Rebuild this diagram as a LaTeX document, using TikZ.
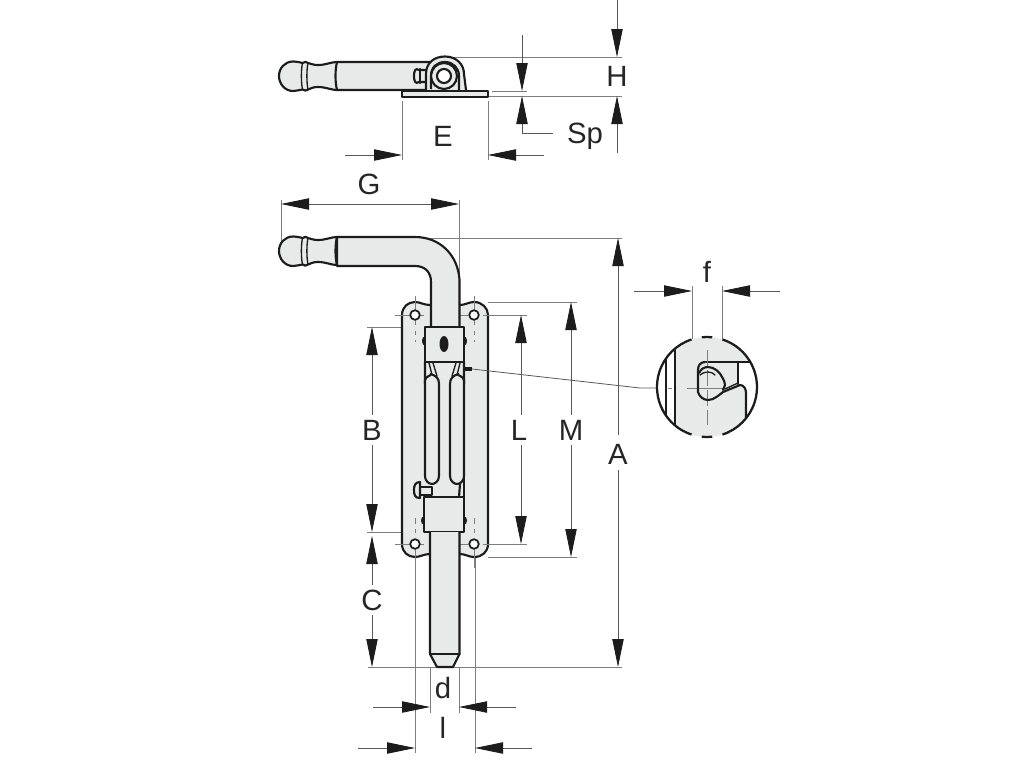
\documentclass[tikz,border=0pt]{standalone}
\usepackage{fontspec}
\setmainfont{Liberation Sans}
\usetikzlibrary{arrows.meta}
\definecolor{partfill}{HTML}{E8EAEA}
\definecolor{partline}{HTML}{1C1C1C}
\definecolor{dimline}{HTML}{7E7E7E}
\tikzset{
  part/.style={draw=partline,fill=partfill,line width=1.6pt,line join=round},
  edge/.style={draw=partline,line width=1.6pt,line cap=round},
  fineedge/.style={draw=partline,line width=1pt,line cap=round},
  ext/.style={draw=dimline,line width=0.65pt},
  dimarrow/.style={draw=dimline!70!black,line width=0.6pt,-{Triangle[length=21pt,width=8.5pt,color=partline]}},
  thin dim/.style={draw=dimline!70!black,line width=0.6pt},
  centre/.style={draw=dimline,line width=0.6pt,dash pattern=on 22pt off 4pt on 3pt off 4pt},
  lab/.style={font=\fontsize{22}{22}\selectfont,text=black!85,inner sep=0pt}
}
\newcommand{\knobpath}{%
  (337,62) .. controls (331,62) and (326,65) .. (318,65)
  .. controls (314,65) and (311,64) .. (308,63)
  .. controls (307,61.5) and (304,61.5) .. (302.5,63)
  .. controls (299,62) and (295,61.5) .. (293,61.5)
  .. controls (285,61.5) and (279,68) .. (279,76)
  .. controls (279,84) and (285,91) .. (293,91)
  .. controls (296,91) and (299,90) .. (302.5,89.5)
  .. controls (304,91) and (307,91) .. (308,89.5)
  .. controls (311,88) and (314,87) .. (318,87)
  .. controls (326,87) and (331,90) .. (337,90)}
\newcommand{\knobdetail}{%
  \draw[fineedge] (302.5,63) .. controls (301,70) and (301,82) .. (302.5,89.5);
  \draw[fineedge] (308,63) .. controls (306.5,70) and (306.5,82) .. (308,89.5);
  \draw[edge] (337,62) .. controls (335,70) and (335,82) .. (337,90);
}
\begin{document}
\begin{tikzpicture}[x=0.75pt,y=-0.75pt]
\path[use as bounding box,fill=white] (0,0) rectangle (1024,768);

% ---------- top view ----------
\draw[ext] (444,57) -- (622,57);
\draw[ext] (488,96) -- (622,96);
\draw[ext] (492,91) -- (527,91);
\draw[ext] (402,101) -- (402,160);
\draw[ext] (488,101) -- (488,160);
\draw[part] \knobpath -- (430,90) -- (430,62) -- cycle;
\knobdetail
% bolt head
\draw[part] (426,70) -- (419,70) .. controls (415,67) and (414,72) .. (414,76)
  .. controls (414,80) and (415,85) .. (419,82) -- (426,82);
\draw[edge] (420,69) -- (420,83);
% bracket
\draw[part] (426,90) -- (426,74) .. controls (426,63) and (434,56.5) .. (445,56.5)
  .. controls (456,56.5) and (464,64) .. (464,74) -- (466,90);
\draw[part] (431,89) -- (431,76) .. controls (431,67) and (437,62) .. (445,62)
  .. controls (453,62) and (459,68) .. (459,76) -- (459,90);
\draw[part] (444,76) circle[radius=13];
\draw[part,fill=white] (444,76) circle[radius=7];
\draw[part] (402,91) rectangle (488,97);

% ---------- front view: extension lines ----------
\draw[ext] (281,200) -- (281,250);
\draw[ext] (459,200) -- (459,280);
\draw[ext] (430,238) -- (622,238);
\draw[ext] (488,302) -- (577,302);
\draw[ext] (488,557) -- (577,557);
\draw[ext] (475,315) -- (527,315);
\draw[ext] (475,544) -- (527,544);
\draw[ext] (367,327) -- (425,327);
\draw[ext] (367,532) -- (425,532);
\draw[ext] (368,667) -- (622,667);
\draw[ext] (415,555) -- (415,753);
\draw[ext] (475,555) -- (475,753);
\draw[ext] (430,667) -- (430,713);
\draw[ext] (459,667) -- (459,713);

% plate
\draw[part] (402,315) .. controls (402,307) and (408,302) .. (415,302)
  .. controls (420,302) and (424,305) .. (430,305) -- (460,305)
  .. controls (465,305) and (469,302) .. (474,302)
  .. controls (482,302) and (488,308) .. (488,315)
  -- (488,544)
  .. controls (488,552) and (482,557) .. (474,557)
  .. controls (469,557) and (465,554) .. (460,554) -- (430,554)
  .. controls (424,554) and (420,557) .. (415,557)
  .. controls (408,557) and (402,552) .. (402,544) -- cycle;
% centre lines
\draw[centre] (395,315) -- (495,315);
\draw[centre] (395,544) -- (495,544);
\draw[centre] (415,296) -- (415,342);
\draw[centre] (474,296) -- (474,342);
\draw[centre] (415,568) -- (415,518);
\draw[centre] (474,568) -- (474,518);
% holes
\foreach \hx/\hy in {415/315,474/315,415/544,474/544}
  \draw[draw=partline,fill=white,line width=1.3pt] (\hx,\hy) circle[radius=4.8];

% handle and bar
\fill[partfill] (337,237) -- (415,237) .. controls (440,237) and (458,255) .. (459,280) -- (459,340) -- (431,340) -- (431,280) .. controls (431,272) and (425,266) .. (415,266) -- (337,266) -- cycle;
\begin{scope}[yshift=-131.25pt]
  \draw[part] \knobpath -- cycle;
  \knobdetail
\end{scope}
\draw[edge] (337,237) -- (415,237) .. controls (440,237) and (458,255) .. (459.5,280) -- (459.5,327);
\draw[edge] (337,266) -- (415,266) .. controls (425,266) and (431,272) .. (431,282) -- (431,327);

% side tabs
\fill[partline] (425,336) .. controls (421,337) and (421,345) .. (425,346) -- cycle;
\fill[partline] (464,336) .. controls (468,337) and (468,345) .. (464,346) -- cycle;
\fill[partline] (424,516) .. controls (420,517) and (420,524) .. (424,525) -- cycle;
\fill[partline] (464,516) .. controls (468,517) and (468,524) .. (464,525) -- cycle;

% slots
\draw[edge] (425,362) -- (425,380) .. controls (426,376) and (431,376) .. (431,374);
\draw[edge] (431,374) .. controls (436,376) and (439,378) .. (439,384) -- (439,476)
  .. controls (439,482) and (434,484) .. (432,484) .. controls (428,484) and (425,480) .. (425,476) -- (425,380);
\draw[edge] (464,362) -- (464,380) .. controls (463,376) and (458,376) .. (458,374);
\draw[edge] (458,374) .. controls (453,376) and (450,378) .. (450,384) -- (450,476)
  .. controls (450,482) and (455,484) .. (457,484) .. controls (461,484) and (464,480) .. (464,476) -- (464,380);
\draw[fineedge] (429,363) -- (432,375);
\draw[fineedge] (433,363) -- (437,376);
\draw[fineedge] (460,363) -- (457,375);
\draw[fineedge] (456,363) -- (452,376);
\draw[edge] (460,484) -- (459,497);
\draw[edge] (464,476) -- (464,497);

% small pin
\fill[partline] (464,366.5) rectangle (472,371) ;

% locking bolt
\draw[part] (420,487) -- (432,487) -- (432,495) -- (420,495) -- cycle;
\draw[part] (420,482) .. controls (415,482) and (414,486) .. (414,490)
  .. controls (414,495) and (415,498) .. (420,498) -- cycle;

% blocks
\draw[part] (425,327) rectangle (464,362);
\fill[partline] (444,344) ellipse[x radius=4.5,y radius=8];
\draw[part] (424,497) rectangle (464,532);

% lower bar
\draw[part] (430,532) -- (430,654) -- (437,667) -- (453,667) -- (459.5,654) -- (459.5,532);
\draw[edge] (430,654) -- (459.5,654);

% ---------- dimension arrows ----------
% H
\draw[dimarrow] (617,0) -- (617,57);
\draw[dimarrow] (617,153) -- (617,96);
% Sp
\draw[dimarrow] (522,35) -- (522,91);
\draw[thin dim] (553,133) -- (522,133);
\draw[dimarrow] (522,133) -- (522,96);
% E
\draw[dimarrow] (345,155) -- (402,155);
\draw[dimarrow] (544,155) -- (488,155);
% G
\draw[dimarrow] (370,204) -- (281,204);
\draw[dimarrow] (370,204) -- (459,204);
% A
\draw[dimarrow] (618,435) -- (618,238);
\draw[dimarrow] (618,470) -- (618,667);
% M
\draw[dimarrow] (571,415) -- (571,302);
\draw[dimarrow] (571,445) -- (571,557);
% L
\draw[dimarrow] (521,415) -- (521,315);
\draw[dimarrow] (521,445) -- (521,544);
% B
\draw[dimarrow] (372,415) -- (372,327);
\draw[dimarrow] (372,445) -- (372,532);
% C
\draw[dimarrow] (372,585) -- (372,536);
\draw[dimarrow] (372,615) -- (372,667);
% d
\draw[dimarrow] (373,707) -- (430,707);
\draw[dimarrow] (516,707) -- (459,707);
% I
\draw[dimarrow] (358,748) -- (415,748);
\draw[dimarrow] (532,748) -- (475,748);
% f
\draw[dimarrow] (634,291) -- (692,291);
\draw[dimarrow] (780,291) -- (722,291);
\draw[ext] (692,286) -- (692,384);
\draw[ext] (722,286) -- (722,384);

% leader to detail
\coordinate (leadstart) at (472,369);
\coordinate (leadbend) at (640,388);
\coordinate (leadend) at (657,388);
\draw[thin dim] (leadstart) -- (leadbend) -- (leadend);

% ---------- detail ----------
\begin{scope}
  \clip (707,387) circle[radius=50];
  \fill[white] (657,337) rectangle (757,437);
  \fill[partfill] (675,330) rectangle (760,445);
  \fill[white] (738,362) rectangle (760,385);
  \fill[white] (740,385) .. controls (744,386) and (746,389) .. (746,393) -- (746,445) -- (760,445) -- (760,385) -- cycle;
  \draw[edge] (666,330) -- (666,445);
  \draw[edge] (675,330) -- (675,445);
  \draw[edge] (704,362) -- (750,362);
  \draw[edge] (738,362) -- (738,384);
  \draw[edge] (723,392) -- (740,385) .. controls (744,385) and (746,389) .. (746,393) -- (746,420);
\end{scope}
\fill[partfill] (705,362) .. controls (700,362) and (698,366) .. (698,370) -- (698,392)
  .. controls (699,396) and (703,400) .. (708,400) .. controls (714,400) and (719,395) .. (723,392) -- (725,380) -- cycle;
\draw[ext] (687,388) -- (725,388);
\draw[centre,dash pattern=on 12pt off 3pt] (707,350) -- (707,425);
\draw[edge] (705,362) .. controls (700,362) and (698,366) .. (698,370) -- (698,392)
  .. controls (699,396) and (703,400) .. (708,400) .. controls (714,400) and (719,395) .. (723,392);
\draw[edge] (699,373) .. controls (701,369) and (704,367) .. (708,367) .. controls (714,367) and (720,372) .. (722,377)
  .. controls (724,380) and (725,383) .. (725,385) -- (723,390);
\draw[fineedge] (700,375) .. controls (702,373) and (705,372) .. (708,372) .. controls (711,372) and (713,373) .. (715,375);
\draw[fineedge] (725,389) -- (738,383);
\draw[centre,dash pattern=on 3pt off 3pt] (668,388) -- (676,388);
% circle with breaks
\foreach \a/\b in {-72/72, 108/252, 264/276, 84/96} {
  \draw[edge,line width=1.7pt,line cap=butt] ({707+50*cos(\a)},{387+50*sin(\a)}) arc[start angle=\a,end angle=\b,radius=50];
}

% ---------- labels ----------
\node[lab] (labH) at (617,76) {H};
\node[lab] (labE) at (443,136) {E};
\node[lab] (labSp) at (585,136) {Sp};
\node[lab] (labG) at (369,184) {G};
\node[lab] (labf) at (707,272) {f};
\node[lab] (labA) at (618,454) {A};
\node[lab] (labM) at (571,430) {M};
\node[lab] (labL) at (519,430) {L};
\node[lab] (labB) at (372,430) {B};
\node[lab] (labC) at (372,600) {C};
\node[lab] (labd) at (443,688) {d};
\node[lab] (labI) at (443,728) {l};
\end{tikzpicture}
\end{document}
